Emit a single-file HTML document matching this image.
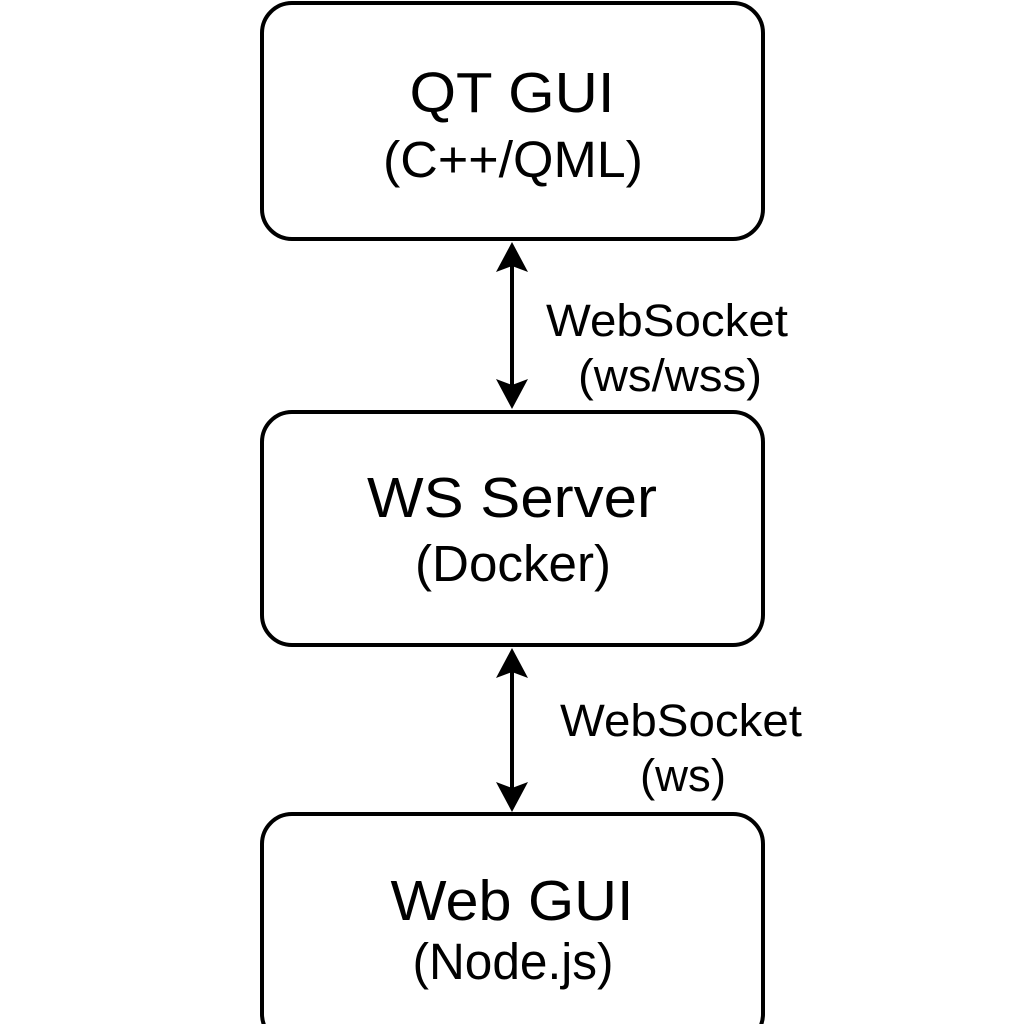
<!DOCTYPE html>
<html><head><style>html,body{margin:0;padding:0;background:#fff}svg{display:block}</style></head>
<body>
<svg width="1024" height="1024" viewBox="0 0 1024 1024" xmlns="http://www.w3.org/2000/svg" font-family="Liberation Sans, Arial, sans-serif" fill="#000">
<g fill="none" stroke="#000" stroke-width="4">
<rect x="262" y="3" width="501" height="236" rx="30"/>
<rect x="262" y="412" width="501" height="233" rx="30"/>
<rect x="262" y="814" width="501" height="230" rx="30"/>
<line x1="512" y1="262" x2="512" y2="388"/>
<line x1="512" y1="668" x2="512" y2="790"/>
</g>
<polygon points="512,242 528,272 512,266 496,272"/>
<polygon points="512,409 528,379 512,385 496,379"/>
<polygon points="512,648 528,678 512,672 496,678"/>
<polygon points="512,812 528,782 512,788 496,782"/>
<g text-anchor="middle">
<text x="512" y="112" font-size="57" textLength="205" lengthAdjust="spacingAndGlyphs">QT GUI</text>
<text x="513" y="177" font-size="51" textLength="260" lengthAdjust="spacingAndGlyphs">(C++/QML)</text>
<text x="512" y="517" font-size="57" textLength="290" lengthAdjust="spacingAndGlyphs">WS Server</text>
<text x="513" y="581" font-size="51" textLength="196" lengthAdjust="spacingAndGlyphs">(Docker)</text>
<text x="512" y="920" font-size="57" textLength="243" lengthAdjust="spacingAndGlyphs">Web GUI</text>
<text x="513" y="979" font-size="51" textLength="201" lengthAdjust="spacingAndGlyphs">(Node.js)</text>
<text x="667" y="336" font-size="45" textLength="242" lengthAdjust="spacingAndGlyphs">WebSocket</text>
<text x="670" y="391" font-size="45" textLength="184" lengthAdjust="spacingAndGlyphs">(ws/wss)</text>
<text x="681" y="736" font-size="45" textLength="242" lengthAdjust="spacingAndGlyphs">WebSocket</text>
<text x="683" y="791" font-size="45" textLength="86" lengthAdjust="spacingAndGlyphs">(ws)</text>
</g>
</svg>
</body></html>
